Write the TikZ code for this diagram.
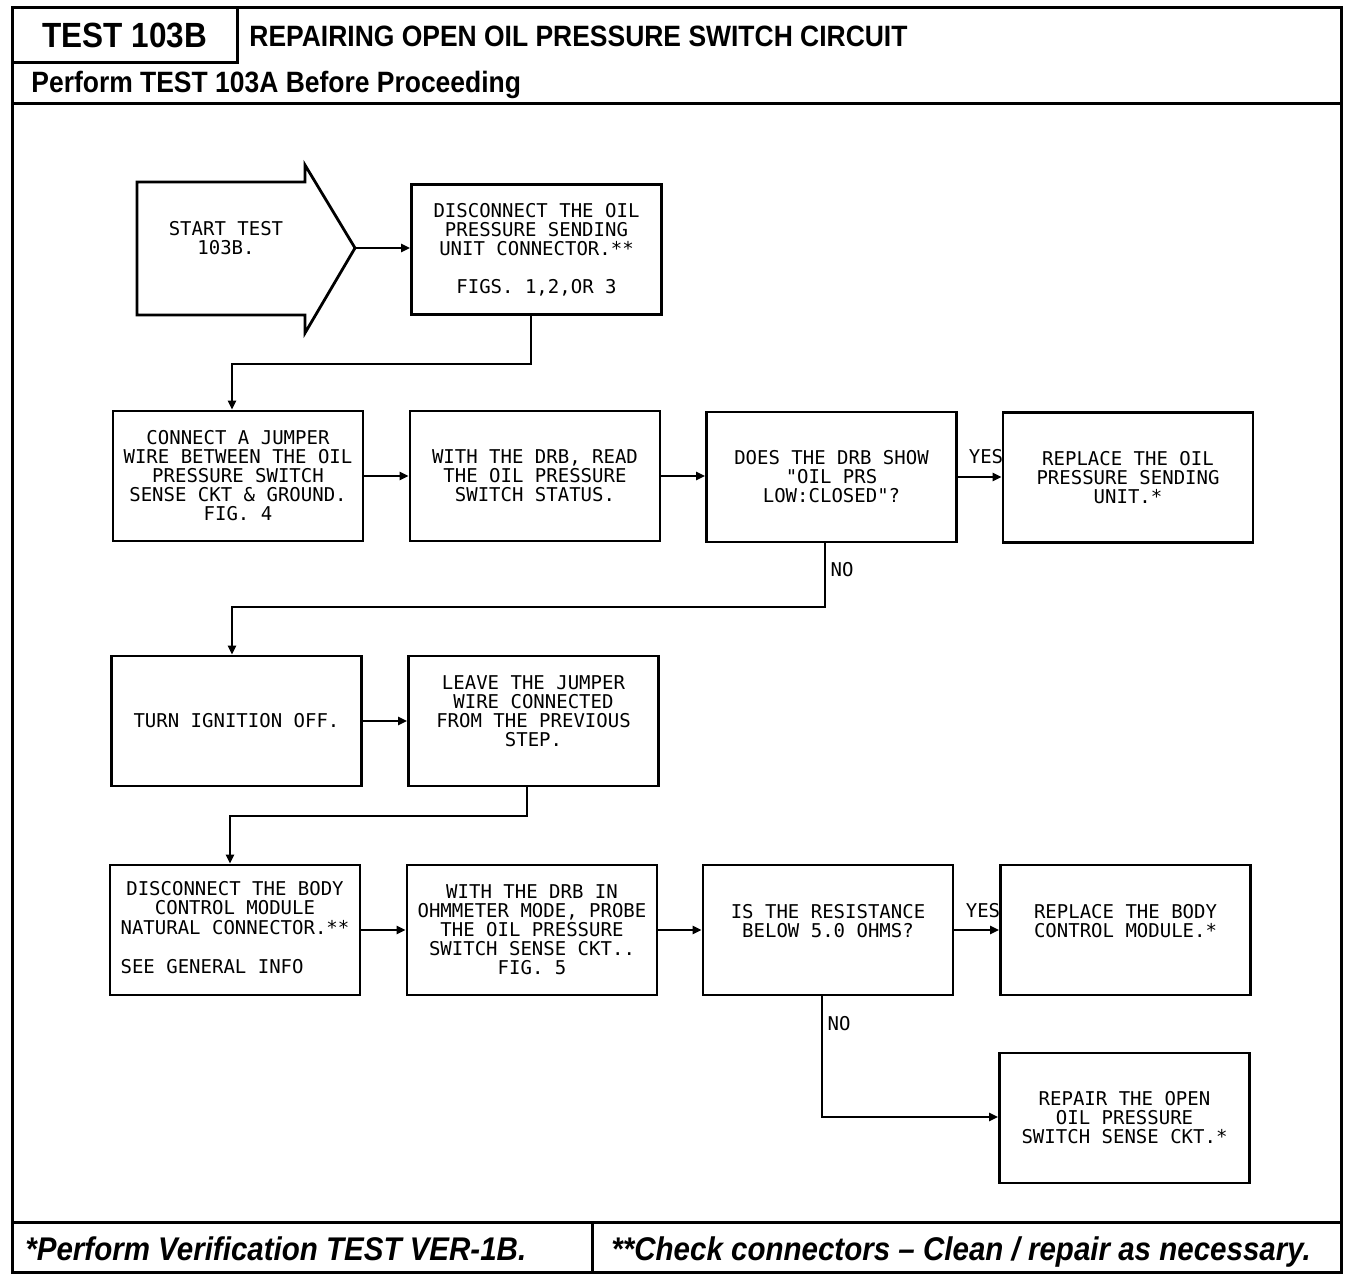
\documentclass[tikz,border=0pt]{standalone}
\usepackage{fontspec}
\setmainfont{Liberation Sans}
\newfontfamily\plotfont{DejaVu Sans Mono}
\newfontfamily\hdrfont[FakeStretch=0.9]{Liberation Sans}
\usetikzlibrary{arrows.meta,calc}
\begin{document}
\begin{tikzpicture}[x=0.5pt,y=-0.5pt,
  frame/.style={line width=1.5pt},
  box/.style={draw, line width=1.4pt, minimum width=125pt, minimum height=65pt,
    inner sep=0pt, align=center, font=\plotfont\fontsize{9.5}{9.5}\selectfont},
  lab/.style={inner sep=0pt, font=\plotfont\fontsize{9.5}{9.5}\selectfont},
  conn/.style={line width=1.2pt, -{Triangle[length=4.5pt,width=4pt]}},
  hdr/.style={inner sep=0pt, anchor=base west, font=\hdrfont\bfseries\fontsize{14.7}{14.7}\selectfont},
  ftr/.style={inner sep=0pt, anchor=base west, font=\hdrfont\bfseries\itshape\fontsize{16.4}{16.4}\selectfont}]
\useasboundingbox (0,0) rectangle (1360,1282);
\fill[white] (0,0) rectangle (1360,1282);

% frame
\draw[frame] (12,7) rectangle (1341,1272);
\draw[frame] (237,7) -- (237,62) -- (12,62);
\draw[frame] (12,103) -- (1341,103);
\draw[frame] (12,1222) -- (1341,1222);
\draw[frame] (592,1222) -- (592,1272);

% header texts
\node[inner sep=0pt, font=\hdrfont\bfseries\fontsize{17.5}{17.5}\selectfont] (testno) at (125,35) {TEST 103B};
\node[hdr] (title) at (249,46) {REPAIRING OPEN OIL PRESSURE SWITCH CIRCUIT};
\node[hdr] (pre) at (31,92) {Perform TEST 103A Before Proceeding};
\node[ftr] (f1) at (25,1260) {*Perform Verification TEST VER-1B.};
\node[ftr] (f2) at (611,1260) {**Check connectors \textendash{} Clean / repair as necessary.};

% start arrow
\draw[line width=1.4pt] (137,182) -- (305,182) -- (305,165) -- (355,248) -- (305,333) -- (305,315) -- (137,315) -- cycle;
\node[lab, align=center] (start) at (226,238) {START TEST\\103B.};
\coordinate (tip) at (355,248);

% boxes
\node[box] (b1) at (536.5,249.5) {DISCONNECT THE OIL\\PRESSURE SENDING\\UNIT CONNECTOR.**\\[9.5pt]FIGS. 1,2,OR 3};
\node[box] (b2) at (238,476) {CONNECT A JUMPER\\WIRE BETWEEN THE OIL\\PRESSURE SWITCH\\SENSE CKT \& GROUND.\\FIG. 4};
\node[box] (b3) at (535,476) {WITH THE DRB, READ\\THE OIL PRESSURE\\SWITCH STATUS.};
\node[box] (b4) at (831.5,477) {DOES THE DRB SHOW\\"OIL PRS\\LOW:CLOSED"?};
\node[box] (b5) at (1128,477.5) {REPLACE THE OIL\\PRESSURE SENDING\\UNIT.*};
\node[box] (b6) at (236.5,721) {TURN IGNITION OFF.};
\node[box] (b7) at (533.5,721) {LEAVE THE JUMPER\\WIRE CONNECTED\\FROM THE PREVIOUS\\STEP.\\~};
\node[box] (b8) at (235,930) {\begin{tabular}{@{}c@{}}DISCONNECT THE BODY\\CONTROL MODULE\\NATURAL CONNECTOR.**\\ \\ \multicolumn{1}{@{}l@{}}{SEE GENERAL INFO}\end{tabular}};
\node[box] (b9) at (532,930) {WITH THE DRB IN\\OHMMETER MODE, PROBE\\THE OIL PRESSURE\\SWITCH SENSE CKT..\\FIG. 5};
\node[box] (b10) at (828,930) {IS THE RESISTANCE\\BELOW 5.0 OHMS?\\~};
\node[box] (b11) at (1125.5,930) {REPLACE THE BODY\\CONTROL MODULE.*\\~};
\node[box] (b12) at (1124.5,1118) {REPAIR THE OPEN\\OIL PRESSURE\\SWITCH SENSE CKT.*};

% bend points
\coordinate (c1) at (531,364);
\coordinate (c2) at (232,364);
\coordinate (c3) at (825,607);
\coordinate (c4) at (232,607);
\coordinate (c5) at (527,816);
\coordinate (c6) at (230,816);
\coordinate (c7) at (822,1117);

% connectors
\draw[conn] (tip) -- (tip -| b1.west);
\draw[conn] (b1.south -| c1) -- (c1) -- (c2) -- (c2 |- b2.north);
\draw[conn] (b2.east) -- (b3.west);
\draw[conn] (b3.east) -- (b3.east -| b4.west);
\draw[conn] (b4.east) -- (b5.west |- b4.east);
\draw[conn] (b4.south -| c3) -- (c3) -- (c4) -- (c4 |- b6.north);
\draw[conn] (b6.east) -- (b7.west);
\draw[conn] (b7.south -| c5) -- (c5) -- (c6) -- (c6 |- b8.north);
\draw[conn] (b8.east) -- (b9.west);
\draw[conn] (b9.east) -- (b10.west);
\draw[conn] (b10.east) -- (b11.west);
\draw[conn] (b10.south -| c7) -- (c7) -- (b12.west |- c7);

% labels
\node[lab] (yes1) at (986,457) {YES};
\node[lab] (no1) at (842,570) {NO};
\node[lab] (yes2) at (983,911) {YES};
\node[lab] (no2) at (839,1024) {NO};
\end{tikzpicture}
\end{document}
